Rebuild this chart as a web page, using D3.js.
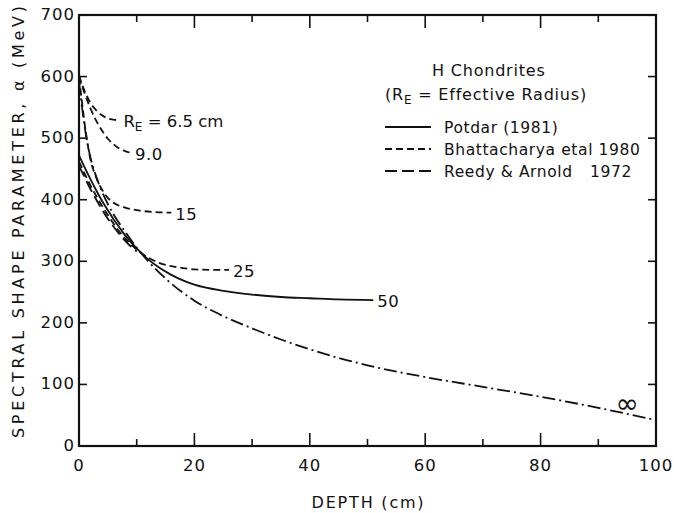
<!DOCTYPE html>
<html>
<head>
<meta charset="utf-8">
<script src="https://cdn.jsdelivr.net/npm/d3@7"></script>
<style>
  html, body { margin: 0; padding: 0; background: #fff; }
  svg { display: block; }
  text { font-family: "DejaVu Sans", "Liberation Sans", sans-serif; fill: #111; }
</style>
</head>
<body>
<svg id="chart" width="674" height="513"></svg>
<script>
// Spectral shape parameter alpha (MeV) vs. depth (cm) in H chondrites
const depthTicks = [0, 20, 40, 60, 80, 100];
const alphaTicks = [0, 100, 200, 300, 400, 500, 600, 700];

// Bhattacharya et al. (1980), R_E = 6.5 cm
const bh65 = [[0,602],[0.5,588],[1,576],[1.5,566],[2,557],[3,545],[4,537],[5,532],[6,530],[7,529]];
// Bhattacharya et al. (1980), R_E = 9.0 cm
const bh90 = [[0,600],[1,572],[2,548],[3,528],[4,512],[5,499],[6,490],[7,483],[8,479],[9,476]];
// Bhattacharya et al. (1980), R_E = 15 cm
const bh15 = [[0,598],[0.5,560],[1,522],[1.5,490],[2,465],[3,436],[4,416],[5,403],[6,395],[8,387],[10,383],[13,380],[16,379]];
// Bhattacharya et al. (1980), R_E = 25 cm
const bh25 = [[0,462],[2,423],[4,390],[6,361],[8,337],[10,319],[12,306],[14,297],[16,292],[18,289],[20,287],[23,286],[26,286]];
// Potdar (1981), R_E = 50 cm
const potdar50 = [[0,472],[1,452],[2,433],[3,415],[4,398],[5,383],[6,368],[7,355],[8,342],[9,331],[10,321],[12,303],[14,289],[16,278],[18,269],[20,262],[25,252],[30,246],[35,242],[40,240],[45,238],[51,237]];
// Reedy & Arnold (1972), near-surface
const reedy = [[0,455],[1,436],[2,417],[3,400],[4,384],[5,369],[6,356],[7,344],[8,333],[9,324],[10,316]];
// Infinite radius
const infinite = [[0,592],[0.5,552],[1,517],[1.5,490],[2,468],[3,437],[4,413],[5,393],[6,376],[8,348],[10,322],[12,300],[15,272],[20,236],[25,211],[30,191],[35,173],[40,157],[45,143],[50,131],[60,112],[70,96],[80,80],[90,62],[100,42]];

const curveLabels = [
  { text: "9.0", at: [9, 476] },
  { text: "15", at: [16, 379] },
  { text: "25", at: [26, 286] },
  { text: "50", at: [51, 237] }
];

const legendItems = [
  { name: "Potdar (1981)", dash: null },
  { name: "Bhattacharya etal 1980", dash: "7,4" },
  { name: "Reedy & Arnold", year: "1972", dash: "12,5" }
];

const svg = d3.select("#chart");
const margin = { left: 79, right: 18, top: 15, bottom: 67 };
const W = 674, H = 513;

const x = d3.scaleLinear().domain([0, 100]).range([margin.left, W - margin.right]);
const y = d3.scaleLinear().domain([0, 700]).range([H - margin.bottom, margin.top]);

// Frame
svg.append("rect")
  .attr("x", x(0)).attr("y", y(700))
  .attr("width", x(100) - x(0)).attr("height", y(0) - y(700))
  .attr("fill", "none").attr("stroke", "#111").attr("stroke-width", 2.2);

// Inner ticks along all four sides
const ticks10 = d3.range(10, 100, 10);
const g = svg.append("g").attr("stroke", "#111").attr("stroke-width", 1.6);
ticks10.forEach(d => {
  const len = d % 20 === 0 ? 13 : 7;
  g.append("line").attr("x1", x(d)).attr("x2", x(d)).attr("y1", y(0)).attr("y2", y(0) - len);
  g.append("line").attr("x1", x(d)).attr("x2", x(d)).attr("y1", y(700)).attr("y2", y(700) + len);
});
alphaTicks.filter(d => d > 0 && d < 700).forEach(d => {
  g.append("line").attr("x1", x(0)).attr("x2", x(0) + 8).attr("y1", y(d)).attr("y2", y(d));
  g.append("line").attr("x1", x(100)).attr("x2", x(100) - 8).attr("y1", y(d)).attr("y2", y(d));
});

// Tick labels
svg.append("g").selectAll("text").data(alphaTicks).join("text")
  .attr("x", x(0) - 4).attr("y", d => y(d) + 5)
  .attr("text-anchor", "end").attr("font-size", 16.5).attr("letter-spacing", 1)
  .text(d => d);
svg.append("g").selectAll("text").data(depthTicks).join("text")
  .attr("x", d => x(d)).attr("y", y(0) + 25)
  .attr("text-anchor", "middle").attr("font-size", 16.5).attr("letter-spacing", 1)
  .text(d => d);

// Axis titles
svg.append("text")
  .attr("x", (x(0) + x(100)) / 2 + 1).attr("y", 508)
  .attr("text-anchor", "middle").attr("font-size", 16)
  .attr("letter-spacing", 1.8)
  .text("DEPTH (cm)");
svg.append("text")
  .attr("transform", "translate(24,222) rotate(-90)")
  .attr("text-anchor", "middle").attr("font-size", 16)
  .attr("textLength", 432).attr("lengthAdjust", "spacing")
  .text("SPECTRAL SHAPE PARAMETER, α (MeV)");

// Curves
const line = d3.line().x(d => x(d[0])).y(d => y(d[1])).curve(d3.curveMonotoneX);
const series = [
  { data: bh65, dash: "7,4" },
  { data: bh90, dash: "7,4" },
  { data: bh15, dash: "7,4" },
  { data: bh25, dash: "7,4" },
  { data: potdar50, dash: null },
  { data: reedy, dash: "12,5" },
  { data: infinite, dash: "13,4,2,4" }
];
svg.append("g").selectAll("path").data(series).join("path")
  .attr("d", d => line(d.data))
  .attr("fill", "none").attr("stroke", "#111").attr("stroke-width", 1.8)
  .attr("stroke-dasharray", d => d.dash);

// Curve labels
const reLabel = svg.append("text").attr("x", x(7) + 4).attr("y", y(529) + 7).attr("font-size", 16.5);
reLabel.append("tspan").text("R");
reLabel.append("tspan").attr("font-size", 12).attr("dy", 4).text("E");
reLabel.append("tspan").attr("dy", -4).text(" = 6.5 cm");

svg.append("g").selectAll("text").data(curveLabels).join("text")
  .attr("x", d => x(d.at[0]) + 4).attr("y", d => y(d.at[1]) + 7)
  .attr("font-size", 16.5).attr("letter-spacing", 0.5)
  .text(d => d.text);

svg.append("text")
  .attr("x", x(95)).attr("y", y(42) - 7)
  .attr("font-size", 28)
  .attr("text-anchor", "middle")
  .text("∞");

// Legend
svg.append("text").attr("x", 432).attr("y", 76).attr("font-size", 16)
  .attr("letter-spacing", 0.8).text("H Chondrites");
const rad = svg.append("text").attr("x", 385).attr("y", 100).attr("font-size", 16).attr("letter-spacing", 0.8);
rad.append("tspan").text("(R");
rad.append("tspan").attr("font-size", 12).attr("dy", 4).text("E");
rad.append("tspan").attr("dy", -4).text(" = Effective Radius)");

const lg = svg.append("g");
legendItems.forEach((d, i) => {
  const ly = 127 + i * 22;
  lg.append("line").attr("x1", 385).attr("x2", 431).attr("y1", ly).attr("y2", ly)
    .attr("stroke", "#111").attr("stroke-width", 1.8).attr("stroke-dasharray", d.dash);
  lg.append("text").attr("x", 444).attr("y", ly + 6).attr("font-size", 15.5)
    .attr("letter-spacing", 0.6).text(d.name);
  if (d.year) lg.append("text").attr("x", 590).attr("y", ly + 6).attr("font-size", 15.5)
    .attr("letter-spacing", 0.6).text(d.year);
});
</script>
</body>
</html>
